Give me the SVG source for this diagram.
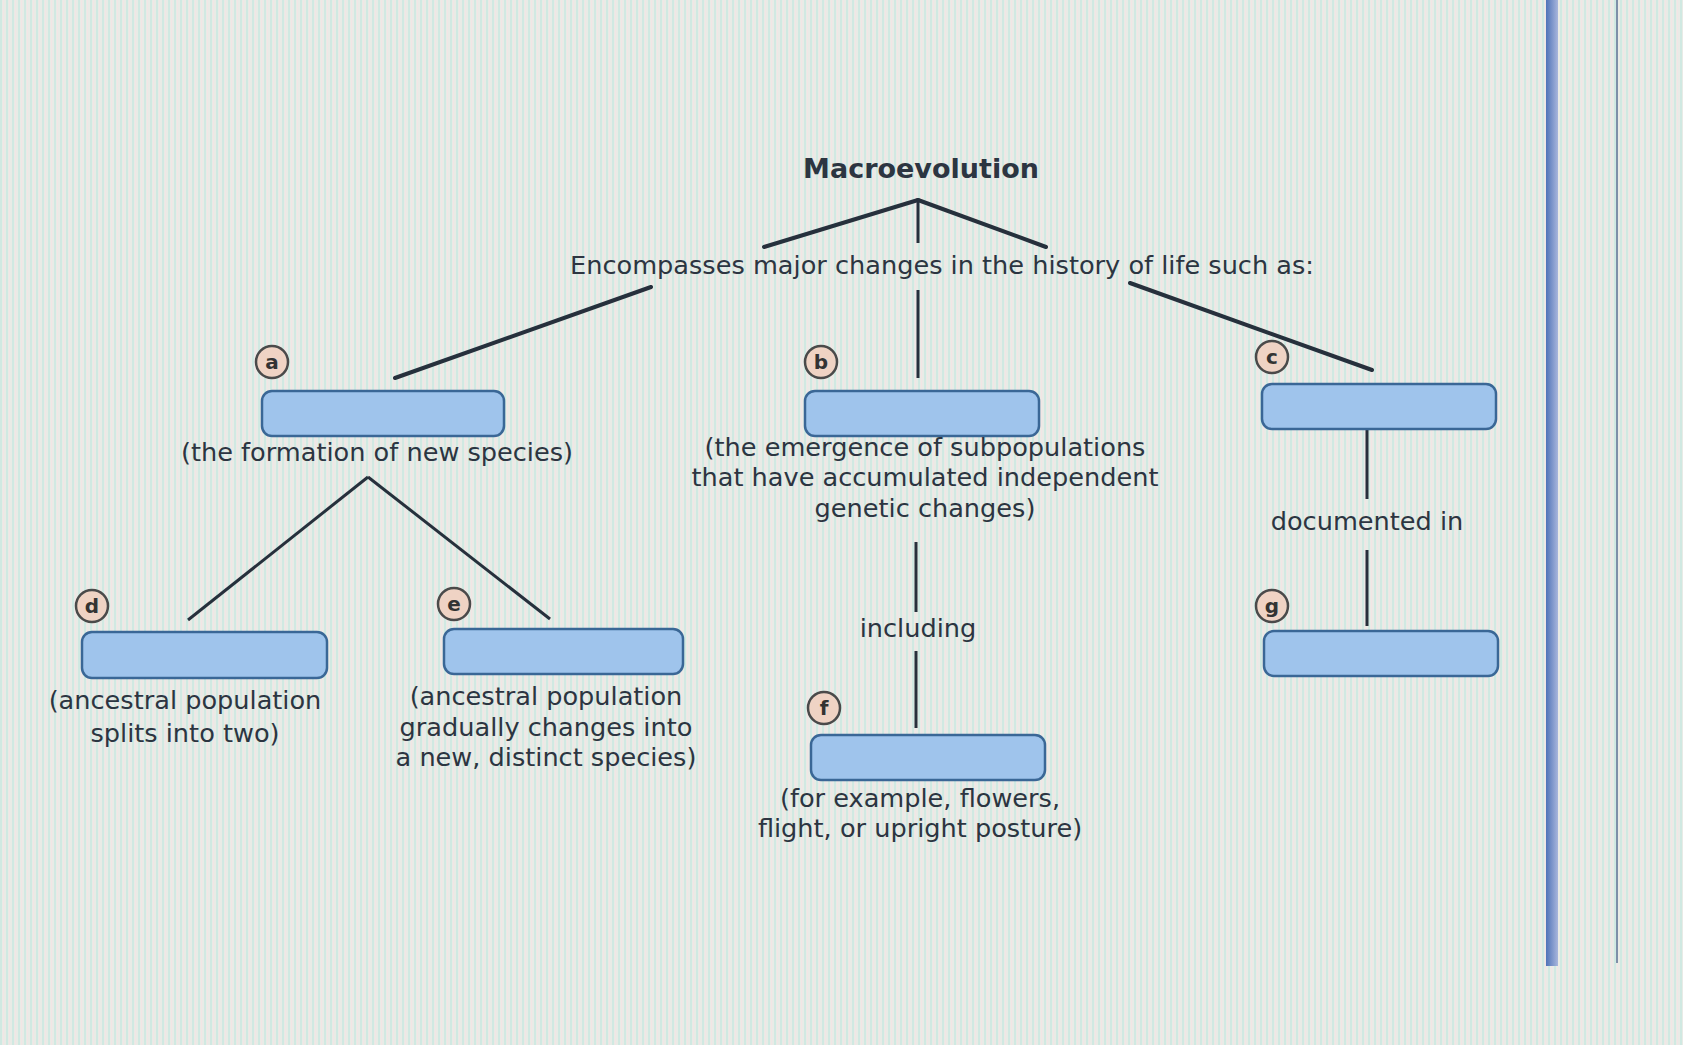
<svg xmlns="http://www.w3.org/2000/svg" width="1683" height="1045" viewBox="0 0 1683 1045">
<defs>
  <pattern id="bg" width="6" height="6" patternUnits="userSpaceOnUse">
    <rect width="6" height="6" fill="#e9ebe6"/>
    <rect x="0" width="2" height="6" fill="#d0e9e2"/>
    <rect x="3" width="1" height="6" fill="#f2e5e5"/>
  </pattern>
  <linearGradient id="bar" x1="0" y1="0" x2="1" y2="0">
    <stop offset="0" stop-color="#4f73b8"/>
    <stop offset="1" stop-color="#a9b6dc"/>
  </linearGradient>
  <style>
    text { font-family: "DejaVu Sans", Verdana, sans-serif; fill: #2c3541; }
    .t { font-size: 25.6px; text-anchor: middle; }
    .title { font-size: 27px; font-weight: bold; text-anchor: middle; }
    .box { fill: #9fc4ec; stroke: #3a6796; stroke-width: 2.5; }
    .badge circle { fill: #efd3c4; stroke: #4a4a4a; stroke-width: 2.5; }
    .badge text { font-size: 20px; font-weight: bold; text-anchor: middle; fill: #333; }
    .ln { stroke: #26303c; stroke-width: 4; fill: none; stroke-linecap: round; }
    .ln2 { stroke: #26303c; stroke-width: 3; fill: none; }
  </style>
</defs>
<rect width="1683" height="1045" fill="url(#bg)"/>
<rect x="1546" y="0" width="12" height="966" fill="url(#bar)"/>
<rect x="1616" y="0" width="2" height="963" fill="#7f8fa8"/>

<g id="connectors">
  <line class="ln" x1="918" y1="200" x2="764" y2="247"/>
  <line class="ln" x1="918" y1="200" x2="1046" y2="247"/>
  <line class="ln2" x1="918" y1="200" x2="918" y2="243"/>
  <line class="ln" x1="651" y1="287" x2="395" y2="378"/>
  <line class="ln2" x1="918" y1="290" x2="918" y2="378"/>
  <line class="ln" x1="1130" y1="283" x2="1372" y2="370"/>
  <line class="ln2" x1="368" y1="477" x2="188" y2="620"/>
  <line class="ln2" x1="368" y1="477" x2="550" y2="619"/>
  <line class="ln2" x1="916" y1="542" x2="916" y2="612"/>
  <line class="ln2" x1="916" y1="651" x2="916" y2="728"/>
  <line class="ln2" x1="1367" y1="429" x2="1367" y2="499"/>
  <line class="ln2" x1="1367" y1="550" x2="1367" y2="626"/>
  <text class="t" x="918" y="637">including</text>
  <text class="t" x="1367" y="530">documented in</text>
</g>

<g id="macroevolution">
  <text class="title" x="921" y="178">Macroevolution</text>
  <text class="t" x="942" y="274">Encompasses major changes in the history of life such as:</text>
</g>

<g id="node-a">
  <g class="badge"><circle cx="272" cy="362" r="16"/><text x="272" y="369">a</text></g>
  <rect class="box" x="262" y="391" width="242" height="45" rx="10"/>
  <text class="t" x="377" y="461">(the formation of new species)</text>
</g>

<g id="node-b">
  <g class="badge"><circle cx="821" cy="362" r="16"/><text x="821" y="369">b</text></g>
  <rect class="box" x="805" y="391" width="234" height="45" rx="10"/>
  <text class="t" x="925" y="456">(the emergence of subpopulations</text>
  <text class="t" x="925" y="486">that have accumulated independent</text>
  <text class="t" x="925" y="517">genetic changes)</text>
</g>

<g id="node-c">
  <g class="badge"><circle cx="1272" cy="357" r="16"/><text x="1272" y="364">c</text></g>
  <rect class="box" x="1262" y="384" width="234" height="45" rx="10"/>
</g>

<g id="node-d">
  <g class="badge"><circle cx="92" cy="606" r="16"/><text x="92" y="613">d</text></g>
  <rect class="box" x="82" y="632" width="245" height="46" rx="10"/>
  <text class="t" x="185" y="709">(ancestral population</text>
  <text class="t" x="185" y="742">splits into two)</text>
</g>

<g id="node-e">
  <g class="badge"><circle cx="454" cy="604" r="16"/><text x="454" y="611">e</text></g>
  <rect class="box" x="444" y="629" width="239" height="45" rx="10"/>
  <text class="t" x="546" y="705">(ancestral population</text>
  <text class="t" x="546" y="736">gradually changes into</text>
  <text class="t" x="546" y="766">a new, distinct species)</text>
</g>

<g id="node-f">
  <g class="badge"><circle cx="824" cy="708" r="16"/><text x="824" y="715">f</text></g>
  <rect class="box" x="811" y="735" width="234" height="45" rx="10"/>
  <text class="t" x="920" y="807">(for example, flowers,</text>
  <text class="t" x="920" y="837">flight, or upright posture)</text>
</g>

<g id="node-g">
  <g class="badge"><circle cx="1272" cy="606" r="16"/><text x="1272" y="613">g</text></g>
  <rect class="box" x="1264" y="631" width="234" height="45" rx="10"/>
</g>
</svg>
